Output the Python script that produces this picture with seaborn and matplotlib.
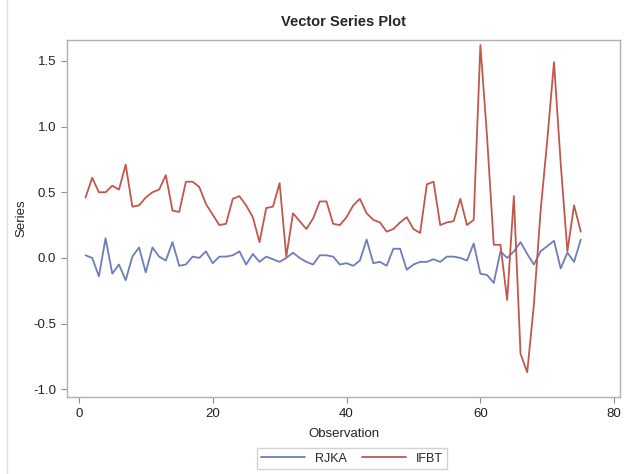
import numpy as np
import pandas as pd
import matplotlib
matplotlib.use("Agg")
import matplotlib.pyplot as plt
import seaborn as sns
from matplotlib.lines import Line2D

# valores
observacion = list(range(1, 76))
rjka = [0.02, 0.00, -0.14, 0.15, -0.12, -0.05, -0.17, 0.01, 0.08, -0.11,
        0.08, 0.01, -0.02, 0.12, -0.06, -0.05, 0.01, 0.00, 0.05, -0.04,
        0.01, 0.01, 0.02, 0.05, -0.05, 0.03, -0.03, 0.01, -0.01, -0.03,
        0.00, 0.04, 0.00, -0.03, -0.05, 0.02, 0.02, 0.01, -0.05, -0.04,
        -0.06, -0.02, 0.14, -0.04, -0.03, -0.06, 0.07, 0.07, -0.09, -0.05,
        -0.03, -0.03, -0.01, -0.03, 0.01, 0.01, 0.00, -0.02, 0.11, -0.12,
        -0.13, -0.19, 0.05, 0.00, 0.05, 0.12, 0.03, -0.05, 0.05, 0.09,
        0.13, -0.08, 0.04, -0.03, 0.14]
ifbt = [0.46, 0.61, 0.50, 0.50, 0.55, 0.52, 0.71, 0.39, 0.40, 0.46,
        0.50, 0.52, 0.63, 0.36, 0.35, 0.58, 0.58, 0.54, 0.41, 0.33,
        0.25, 0.26, 0.45, 0.47, 0.40, 0.31, 0.12, 0.38, 0.39, 0.57,
        0.01, 0.34, 0.28, 0.22, 0.30, 0.43, 0.43, 0.26, 0.25, 0.31,
        0.40, 0.45, 0.34, 0.29, 0.27, 0.20, 0.22, 0.27, 0.31, 0.22,
        0.19, 0.56, 0.58, 0.25, 0.27, 0.28, 0.45, 0.25, 0.29, 1.62,
        0.92, 0.10, 0.10, -0.32, 0.47, -0.73, -0.87, -0.35, 0.36, 0.90,
        1.49, 0.72, 0.05, 0.40, 0.20]
series = ["RJKA", "IFBT"]
colores = ["#6E7DBA", "#C2574C"]

df = pd.DataFrame({"Observation": observacion * 2,
                   "Series": rjka + ifbt,
                   "Variable": ["RJKA"] * 75 + ["IFBT"] * 75})

sns.set_style("white")
plt.rcParams["font.family"] = ["Liberation Sans", "DejaVu Sans"]

fig = plt.figure(figsize=(6.24, 4.74), dpi=100)
ax = fig.add_axes([0.107, 0.162, 0.887, 0.754])
sns.lineplot(data=df, x="Observation", y="Series", hue="Variable",
             hue_order=series, palette=colores, linewidth=1.3, ax=ax)

ax.set_xlim(-1.8, 80.9)
ax.set_ylim(-1.06, 1.66)
ax.set_xticks([0, 20, 40, 60, 80])
ax.set_yticks([-1.0, -0.5, 0.0, 0.5, 1.0, 1.5])
ax.set_yticklabels(["-1.0", "-0.5", "0.0", "0.5", "1.0", "1.5"])
for s in ax.spines.values():
    s.set_color("#B0B0B0")
    s.set_linewidth(1.0)
ax.tick_params(axis="both", which="both", direction="out", length=4,
               color="#909090", labelsize=9.5, labelcolor="#222222",
               left=True, bottom=True)
ax.set_xlabel("Observation", fontsize=9.5, color="#222222", labelpad=6)
ax.set_ylabel("Series", fontsize=9.5, color="#222222", labelpad=4)
ax.set_title("Vector Series Plot", fontsize=10.5, fontweight="bold", pad=10)

ax.legend(loc="upper center", bbox_to_anchor=(0.515, -0.125), ncol=2,
          frameon=True, fancybox=False, edgecolor="#C8C8C8", fontsize=9,
          handlelength=3.5, columnspacing=1.2, borderpad=0.35)

fig.add_artist(Line2D([0.012, 0.012], [0.0, 1.0], color="#E0E0E0", lw=1))

fig.savefig("out.png", dpi=100)
